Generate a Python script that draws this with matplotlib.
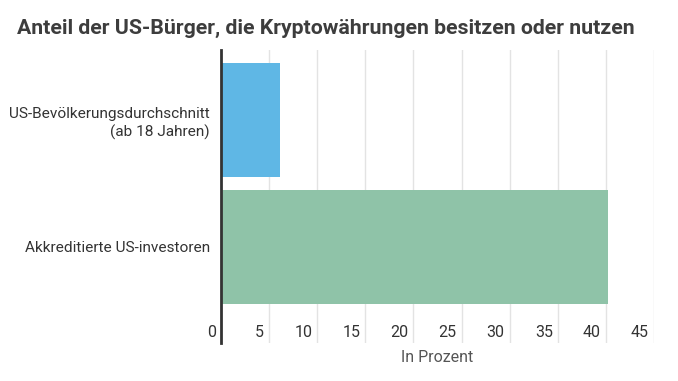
import matplotlib.pyplot as plt
from matplotlib.transforms import blended_transform_factory, offset_copy

plt.rcParams['font.family'] = ['Roboto', 'DejaVu Sans']

# Daten
kategorien = ["US-Bevölkerungsdurchschnitt\n(ab 18 Jahren)", "Akkreditierte US-investoren"]
werte = [6.1, 40.2]
farben = ["#5fb7e5", "#8fc3a8"]
ticks = [0, 5, 10, 15, 20, 25, 30, 35, 40, 45]

W, H = 678, 381
fig = plt.figure(figsize=(W / 100, H / 100), dpi=100)
# Achse in Pixelkoordinaten: links 221, rechts 654, oben 50, unten 343
ax = fig.add_axes([221 / W, 1 - 343 / H, (654 - 221) / W, (343 - 50) / H])

pos = [0, 1]
ax.barh(pos, werte, height=0.9, color=farben, zorder=2)
ax.set_xlim(0, 45)
ax.set_ylim(1.756, -0.551)

for t in ticks[1:]:
    ax.axvline(t, color="#e3e3e3", lw=1, zorder=1)

for s in ["top", "right", "bottom"]:
    ax.spines[s].set_visible(False)
ax.spines["left"].set_color("#333333")
ax.spines["left"].set_linewidth(2)
ax.spines["left"].set_zorder(3)

ax.set_xticks([])
ax.set_yticks(pos)
ax.set_yticklabels(kategorien, fontsize=11.1, color="#333333", linespacing=1.3)
ax.tick_params(axis="y", length=0, pad=8)
for lbl in ax.get_yticklabels():
    lbl.set_horizontalalignment("right")
    lbl.set_multialignment("right")

# Tick-Beschriftungen innerhalb der Achse, links von den Gitterlinien
trans = blended_transform_factory(ax.transData, ax.transAxes)
trans = offset_copy(trans, fig=fig, x=-5, y=0, units="dots")
for t in ticks:
    ax.text(t, 0.035, str(t), transform=trans, ha="right", va="center",
            fontsize=11.5, color="#333333")

fig.text(437 / W, 1 - 358 / H, "In Prozent", ha="center", va="center",
         fontsize=11.5, color="#555555")
fig.text(17 / W, 1 - 28 / H, "Anteil der US-Bürger, die Kryptowährungen besitzen oder nutzen",
         ha="left", va="center", fontsize=15.3, fontweight="bold", color="#3d3d3d")

fig.savefig("out.png", dpi=100)
